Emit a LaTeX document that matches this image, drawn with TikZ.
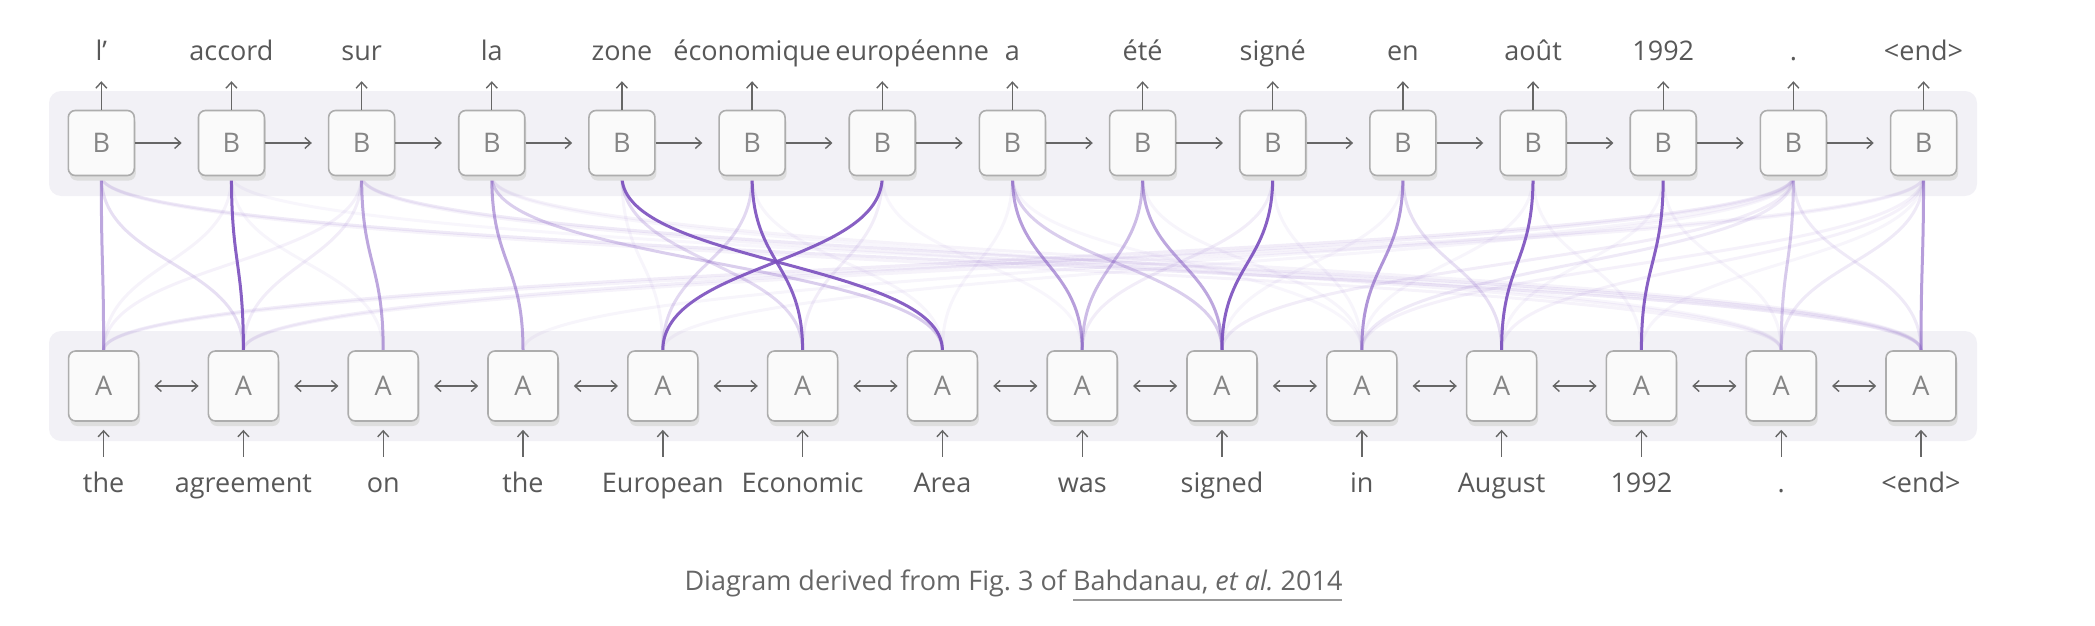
\documentclass[tikz,border=0pt]{standalone}
\usepackage{fontspec}
\setmainfont{Open Sans}
\usetikzlibrary{arrows.meta,shadows}
\pgfdeclarelayer{back}
\pgfsetlayers{back,main}
\definecolor{panel}{HTML}{F2F1F6}
\definecolor{cellfill}{HTML}{FAFAFA}
\definecolor{celldraw}{HTML}{ADADAD}
\definecolor{attn}{HTML}{7B4FBE}
\definecolor{ink}{HTML}{585858}
\newcommand\capline[1]{\setbox0\hbox{#1}\rlap{\textcolor{black!40}{\rule[-11pt]{\wd0}{1.8pt}}}\box0}
\tikzset{
  cell/.style={draw=celldraw, fill=cellfill, line width=1.6pt, rounded corners=7pt, inner sep=0pt,
    text=black!48, font=\fontsize{27}{32}\selectfont,
    drop shadow={shadow xshift=1.5pt, shadow yshift=-5pt, fill=black!13, opacity=1}},
  bcell/.style={cell, minimum width=66pt, minimum height=65pt},
  acell/.style={cell, minimum width=70pt, minimum height=70pt},
  word/.style={text=ink, font=\fontsize{27}{32}\selectfont},
  arr/.style={draw=black!60, line width=1.4pt, -{Straight Barb[length=6pt,width=11pt]}},
  arrboth/.style={draw=black!60, line width=1.4pt, {Straight Barb[length=6pt,width=11pt]}-{Straight Barb[length=6pt,width=11pt]}},
  link/.style={draw=attn, line width=3pt},
}
\begin{document}
\begin{tikzpicture}[x=1pt, y=-1pt]
\useasboundingbox (0,0) rectangle (2095,626);

% decoder row (word/shift of its label)
\foreach \w/\dx [count=\j] in {l’/0, accord/0, sur/0, la/0, zone/0, économique/0, européenne/30, a/0, été/0, signé/0, en/0, août/0, 1992/0, ./0, <end>/0}{
  \node[bcell] (b\j) at ({101.3+130.16*(\j-1)},143) {B};
  \node[word, anchor=base, text depth=0pt, inner ysep=20pt] (out\j) at ({101.3+130.16*(\j-1)+\dx},61) {\w};
  \draw[arr] (b\j.north) -- (b\j.north |- out\j.south);
}
\foreach \j [count=\k from 2] in {1,...,14}
  \draw[arr, shorten >=16pt] (b\j.east) -- (b\k.west);

% encoder row
\foreach \w [count=\i] in {the, agreement, on, the, European, Economic, Area, was, signed, in, August, 1992, ., <end>}{
  \node[acell] (a\i) at ({103.6+139.8*(\i-1)},386) {A};
  \node[word, anchor=base, text height=20pt, text depth=6pt, inner ysep=16pt] (in\i) at ({103.6+139.8*(\i-1)},492.7) {\w};
  \draw[arr, shorten >=8pt] (in\i.north) -- (a\i.south);
}
\foreach \i [count=\k from 2] in {1,...,13}
  \draw[arrboth, shorten <=15pt, shorten >=9pt] (a\i.east) -- (a\k.west);

\begin{pgfonlayer}{back}
  \fill[panel, rounded corners=12pt] (49,91) rectangle (1977,196);
  \fill[panel, rounded corners=12pt] (49,331) rectangle (1977,441);
  % attention links: decoder/encoder/weight
  \foreach \j/\i/\w in {1/1/.5, 1/2/.18, 1/13/.07, 1/14/.12,
      2/2/.9, 2/1/.07, 2/3/.06, 2/14/.05,
      3/3/.5, 3/1/.08, 3/2/.1, 3/13/.07, 3/14/.12,
      4/4/.5, 4/7/.28, 4/14/.07, 4/13/.05,
      5/7/.9, 5/6/.22, 5/5/.06,
      6/6/.9, 6/5/.22, 6/7/.06,
      7/5/.9, 7/6/.1, 7/8/.05,
      8/8/.55, 8/9/.28, 8/7/.06, 8/10/.05,
      9/9/.5, 9/8/.38, 9/10/.06,
      10/9/.9, 10/8/.1, 10/10/.06,
      11/10/.6, 11/11/.18, 11/9/.06,
      12/11/.9, 12/10/.06, 12/12/.06,
      13/12/.9, 13/11/.06, 13/13/.06,
      14/13/.3, 14/14/.12, 14/1/.1, 14/2/.09, 14/4/.06, 14/9/.1, 14/10/.12, 14/5/.06,
      15/14/.55, 15/13/.12, 15/1/.07, 15/2/.07, 15/11/.08, 15/12/.06, 15/10/.08}
    \draw[link, opacity=\w] (b\j.south) .. controls +(0,87) and +(0,-87) .. (a\i.north);
\end{pgfonlayer}

\node[word, text=black!60, anchor=base] (caption) at (1013.5,590) {Diagram derived from Fig.\ 3 of \capline{Bahdanau, \textit{et al.}\ 2014}};
\end{tikzpicture}
\end{document}
